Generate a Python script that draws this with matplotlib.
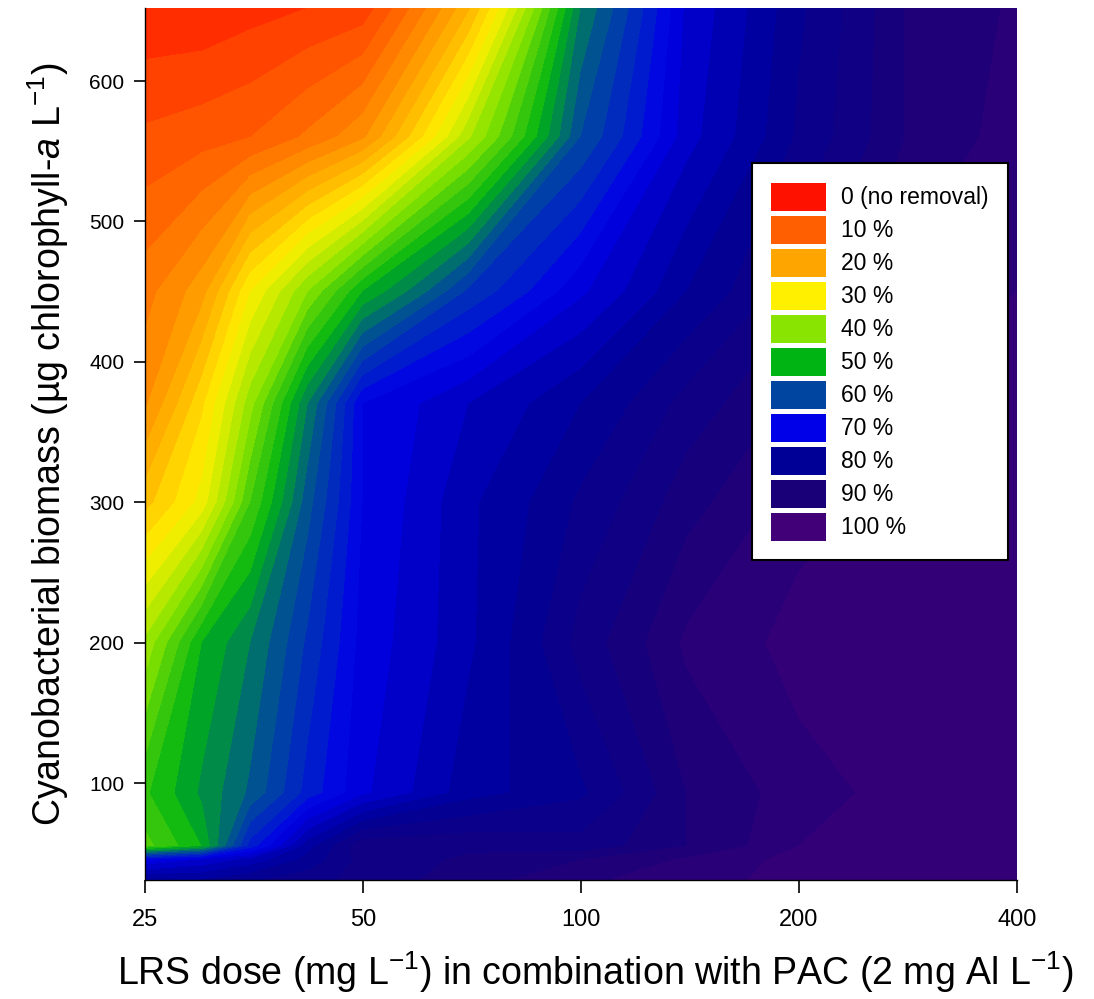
import numpy as np
import matplotlib
matplotlib.use('Agg')
import matplotlib.pyplot as plt
import matplotlib.ticker as ticker
from matplotlib import font_manager
from matplotlib.colors import LinearSegmentedColormap
from matplotlib.patches import Patch

plt.rcParams['font.family'] = ['Liberation Sans', 'DejaVu Sans']
plt.rcParams['mathtext.fontset'] = 'custom'
plt.rcParams['mathtext.rm'] = 'Liberation Sans'
plt.rcParams['mathtext.it'] = 'Liberation Sans:italic'

# narrow face for the big axis titles, if it is there
names = {f.name for f in font_manager.fontManager.ttflist}
narrow = 'Liberation Sans Narrow' in names
label_family = 'Liberation Sans Narrow' if narrow else 'Liberation Sans'
label_size = 32 if narrow else 27

# LRS dose (mg/L) and biomass (ug chl-a / L) grid
dose = [25, 30, 35, 42, 50, 70, 100, 140, 200, 280, 400]
biomass = [31, 45, 55, 93, 200, 300, 370, 450, 560, 652]

# removal (%) per biomass row (bottom to top), columns follow dose
removal = [
    [80, 80, 82, 84, 86, 89, 92, 94, 96, 97, 97],
    [70, 73, 76, 81, 86, 88, 90, 93, 96, 97, 97],
    [44, 50, 66, 79, 87, 87, 86, 90, 95, 97, 97],
    [47, 53, 58, 66, 72, 79, 82, 90, 94, 96, 97],
    [38, 50, 55, 63, 71, 77, 86, 93, 96, 97, 97],
    [24, 31, 45, 59, 70, 77, 83, 89, 94, 96, 97],
    [17, 27, 39, 55, 70, 75, 80, 86, 91, 95, 96],
    [14, 19, 30, 40, 50, 63, 72, 80, 87, 93, 95],
    [8, 9, 10, 13, 17, 37, 60, 74, 83, 90, 94],
    [3, 3, 4, 5, 6, 22, 55, 73, 82, 90, 93],
]

legend_labels = ['0 (no removal)', '10 %', '20 %', '30 %', '40 %', '50 %',
                 '60 %', '70 %', '80 %', '90 %', '100 %']
legend_colors = ['#FF1100', '#FF5F00', '#FFA500', '#FFF000', '#88E400', '#00B414',
                 '#0046A0', '#0000E8', '#000096', '#1A0078', '#420078']

cmap = LinearSegmentedColormap.from_list('removal', legend_colors)

fig = plt.figure(figsize=(10.94, 9.99), dpi=100)
ax = fig.add_axes([145 / 1094, 119 / 999, 872 / 1094, 872 / 999])

X, Y = np.meshgrid(dose, biomass)
Z = np.array(removal, dtype=float)
levels = np.arange(0, 101, 2.5)
ax.contourf(X, Y, Z, levels=levels, cmap=cmap, vmin=0, vmax=100)

ax.set_xscale('log', base=2)
ax.set_xlim(25, 400)
ax.set_ylim(31, 652)
ax.xaxis.set_major_locator(ticker.FixedLocator([25, 50, 100, 200, 400]))
ax.xaxis.set_major_formatter(ticker.FixedFormatter(['25', '50', '100', '200', '400']))
ax.xaxis.set_minor_locator(ticker.NullLocator())
ax.set_yticks([100, 200, 300, 400, 500, 600])

ax.tick_params(axis='x', length=9, width=1.2, labelsize=17, pad=12)
ax.tick_params(axis='y', length=8, width=1.2, labelsize=15, pad=7)
for s in ['top', 'right']:
    ax.spines[s].set_visible(False)
for s in ['left', 'bottom']:
    ax.spines[s].set_linewidth(1.0)

ax.set_xlabel(r'LRS dose (mg L$^{-1}$) in combination with PAC (2 mg Al L$^{-1}$)',
              fontsize=label_size, family=label_family)
ax.xaxis.set_label_coords(0.516, -0.080)
ax.set_ylabel(r'Cyanobacterial biomass (µg chlorophyll-$\it{a}$ L$^{-1}$)',
              fontsize=label_size, family=label_family)
ax.yaxis.set_label_coords(-0.085, 0.5)

handles = [Patch(facecolor=c, edgecolor='none') for c in legend_colors]
leg = ax.legend(handles, legend_labels, loc='upper left', bbox_to_anchor=(0.696, 0.822),
                fontsize=16.5, frameon=True, fancybox=False, framealpha=1,
                edgecolor='black', handlelength=2.4, handleheight=1.5,
                labelspacing=0.22, handletextpad=0.62, borderpad=0.85, borderaxespad=0)
leg.get_frame().set_linewidth(1.5)

fig.savefig('out.png', dpi=100)
